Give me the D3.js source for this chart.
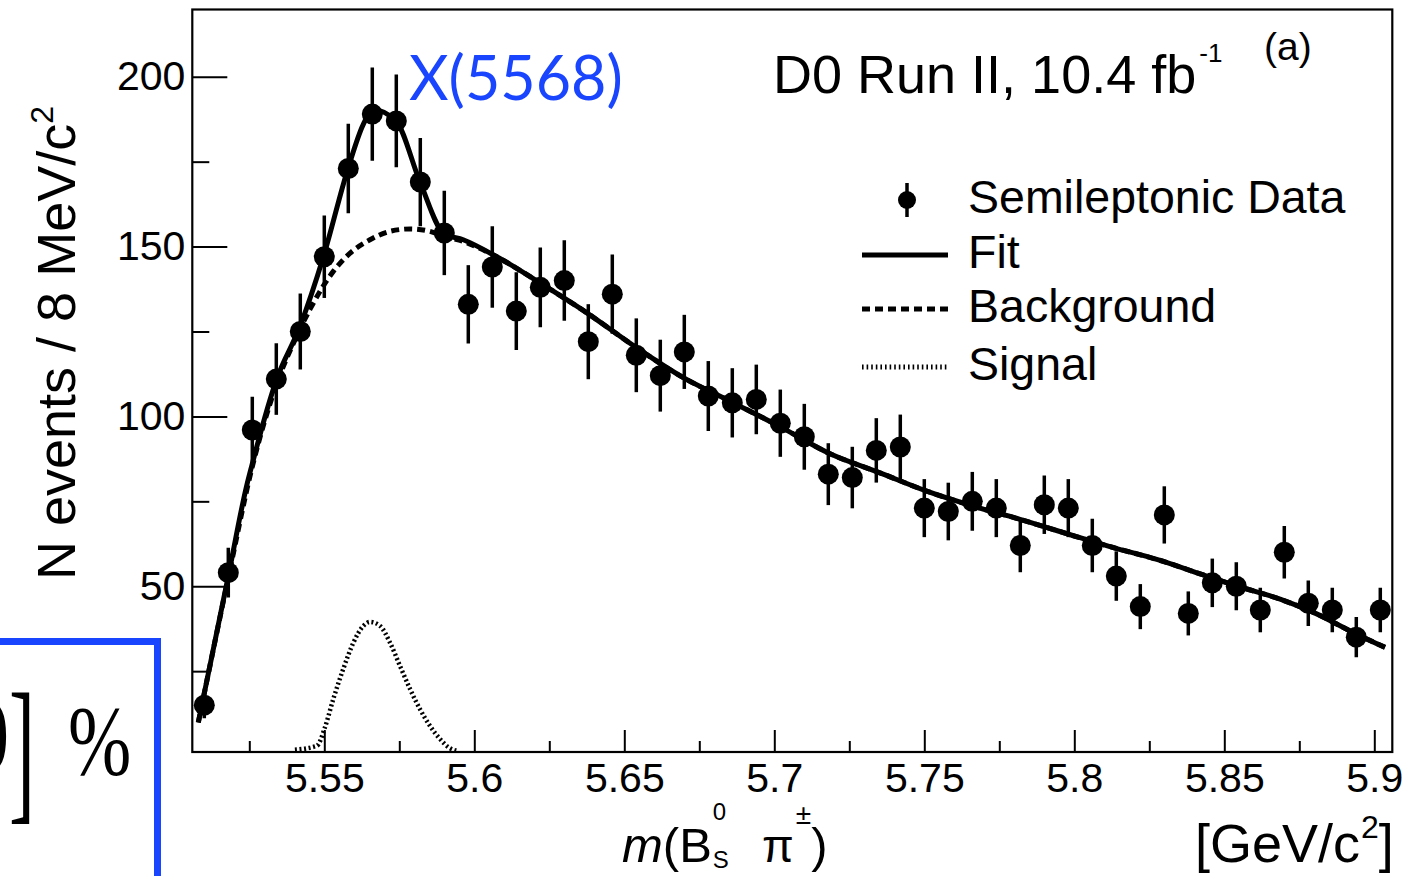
<!DOCTYPE html>
<html>
<head>
<meta charset="utf-8">
<script src="https://cdn.jsdelivr.net/npm/d3@7"></script>
<style>
  html, body { margin: 0; padding: 0; background: #fff; }
  svg { display: block; }
</style>
</head>
<body>
<svg id="chart" width="1403" height="876"></svg>
<script>
// Invariant mass of B_s0 pi± candidates, 8 MeV/c^2 bins (GeV/c^2 bin centres)
const binCenters = [5.510, 5.518, 5.526, 5.534, 5.542, 5.550, 5.558, 5.566, 5.574, 5.582,
                    5.590, 5.598, 5.606, 5.614, 5.622, 5.630, 5.638, 5.646, 5.654, 5.662,
                    5.670, 5.678, 5.686, 5.694, 5.702, 5.710, 5.718, 5.726, 5.734, 5.742,
                    5.750, 5.758, 5.766, 5.774, 5.782, 5.790, 5.798, 5.806, 5.814, 5.822,
                    5.830, 5.838, 5.846, 5.854, 5.862, 5.870, 5.878, 5.886, 5.894, 5.902];
const counts = [15, 54, 96, 111, 125, 147, 173, 189, 187, 169,
                154, 133, 144, 131, 138, 140, 122, 136, 118, 112,
                119, 106, 104, 105, 98, 94, 83, 82, 90, 91,
                73, 72, 75, 73, 62, 74, 73, 62, 53, 44,
                71, 42, 51, 50, 43, 60, 45, 43, 35, 43];

// Total fit curve
const fitMass  = [5.5080, 5.5180, 5.5241, 5.5258, 5.5341, 5.5419, 5.5497, 5.5579, 5.5630, 5.5663,
                  5.5739, 5.5819, 5.5899, 5.5963, 5.6075, 5.6219, 5.6375, 5.6541, 5.6697, 5.6852,
                  5.7019, 5.7186, 5.7352, 5.7508, 5.7663, 5.7819, 5.8019, 5.8130, 5.8275, 5.8441,
                  5.8541, 5.8686, 5.8797, 5.8941, 5.9036];
const fitValue = [9.9, 53, 79.5, 85.4, 110.9, 126.5, 147, 173, 186, 190.3,
                  187, 169, 153.8, 152, 147, 139.3, 130.5, 120.2, 111.4, 104.5,
                  97, 89, 83.4, 78, 73.6, 69.7, 64.3, 61.4, 57.9, 53,
                  50.1, 46.2, 42.3, 35.9, 32];

// Background component
const bgMass  = [5.5080, 5.5180, 5.5258, 5.5341, 5.5402, 5.5452, 5.5530, 5.5585, 5.5652, 5.5719,
                 5.5786, 5.5852, 5.5899, 5.5963, 5.6075, 5.6219, 5.6375, 5.6541, 5.6697, 5.6852,
                 5.7019, 5.7186, 5.7352, 5.7508, 5.7663, 5.7819, 5.8019, 5.8130, 5.8275, 5.8441,
                 5.8541, 5.8686, 5.8797, 5.8941, 5.9036];
const bgValue = [9.9, 52.5, 84.5, 109.5, 122.5, 131.5, 142.7, 148, 152, 154.5,
                 155.2, 154.5, 153, 151.5, 147, 139.3, 130.5, 120.2, 111.4, 104.5,
                 97, 89, 83.4, 78, 73.6, 69.7, 64.3, 61.4, 57.9, 53,
                 50.1, 46.2, 42.3, 35.9, 32];

// Signal component
const sigMass  = [5.5402, 5.5475, 5.5502, 5.5530, 5.5563, 5.5597, 5.5630, 5.5652, 5.5686,
                  5.5719, 5.5752, 5.5786, 5.5819, 5.5852, 5.5886, 5.5919, 5.5941];
const sigValue = [1.9, 3, 8.4, 16.8, 25.6, 33.4, 38.3, 39.5, 38.3,
                  33.4, 26.6, 19.7, 13.8, 8.9, 5, 2.3, 1.6];

// Axis ticks
const xMajor = [5.55, 5.6, 5.65, 5.7, 5.75, 5.8, 5.85, 5.9];
const xTickLabels = ["5.55", "5.6", "5.65", "5.7", "5.75", "5.8", "5.85", "5.9"];
const xMinor = [5.525, 5.575, 5.625, 5.675, 5.725, 5.775, 5.825, 5.875];
const yMajor = [50, 100, 150, 200];
const yTickLabels = ["50", "100", "150", "200"];
const yMinor = [25, 75, 125, 175];

const legendLabels = ["Semileptonic Data", "Fit", "Background", "Signal"];

const SANS = "'Liberation Sans', Arial, Helvetica, sans-serif";
const SERIF = "'Liberation Serif', 'DejaVu Serif', serif";
const BLUE = "#1a45ff";

const svg = d3.select("#chart");
const frame = { left: 192.3, right: 1392.3, top: 9.5, bottom: 752 };

const x = d3.scaleLinear().domain([5.506, 5.906]).range([frame.left, frame.right]);
const y = d3.scaleLinear().domain([1.2, 219.8]).range([frame.bottom, frame.top]);

svg.append("rect").attr("width", 1403).attr("height", 876).attr("fill", "#fff");

// Boxed formula fragment at the lower left
const box = svg.append("g");
box.append("rect")
  .attr("x", -30).attr("y", 641.5).attr("width", 187.5).attr("height", 300)
  .attr("fill", "#fff").attr("stroke", BLUE).attr("stroke-width", 7);
box.append("text")
  .attr("transform", "translate(9,770) scale(1,1.35)")
  .attr("text-anchor", "end")
  .attr("font-family", SERIF).attr("font-size", 76).attr("fill", "#000")
  .text("0");
box.append("text")
  .attr("transform", "translate(9,803) scale(1,2.05)")
  .attr("font-family", SERIF).attr("font-size", 78).attr("fill", "#000")
  .text("]");
box.append("text")
  .attr("transform", "translate(68,774) scale(1,1.3)")
  .attr("font-family", SERIF).attr("font-size", 76).attr("fill", "#000")
  .text("%");

// Clip region for the curves
svg.append("defs").append("clipPath").attr("id", "plotClip")
  .append("rect")
  .attr("x", frame.left).attr("y", frame.top)
  .attr("width", frame.right - frame.left).attr("height", frame.bottom - frame.top);

const plot = svg.append("g").attr("clip-path", "url(#plotClip)");

const curve = (xs, ys) => d3.line()
  .x((d, i) => x(xs[i]))
  .y((d, i) => y(ys[i]))
  .curve(d3.curveMonotoneX)(xs);

plot.append("path")
  .attr("d", curve(sigMass, sigValue))
  .attr("fill", "none").attr("stroke", "#000").attr("stroke-width", 4.5)
  .attr("stroke-dasharray", "2,2.6");

plot.append("path")
  .attr("d", curve(bgMass, bgValue))
  .attr("fill", "none").attr("stroke", "#000").attr("stroke-width", 5)
  .attr("stroke-dasharray", "8,5");

plot.append("path")
  .attr("d", curve(fitMass, fitValue))
  .attr("fill", "none").attr("stroke", "#000").attr("stroke-width", 5)
  .attr("stroke-linejoin", "round");

// Data points with Poisson uncertainties
const pts = plot.append("g").selectAll("g")
  .data(counts.map((c, i) => ({ m: binCenters[i], n: c, e: Math.sqrt(c) })))
  .join("g");
pts.append("line")
  .attr("x1", d => x(d.m)).attr("x2", d => x(d.m))
  .attr("y1", d => y(d.n - d.e)).attr("y2", d => y(d.n + d.e))
  .attr("stroke", "#000").attr("stroke-width", 3.5);
pts.append("circle")
  .attr("cx", d => x(d.m)).attr("cy", d => y(d.n)).attr("r", 10.5)
  .attr("fill", "#000");

// Axes (ticks pointing inward)
function styleAxis(g) {
  g.select(".domain").remove();
  g.attr("font-family", SANS).attr("font-size", 41);
  g.selectAll("line").attr("stroke", "#000").attr("stroke-width", 2);
  g.selectAll("text").attr("fill", "#000");
}
svg.append("g").attr("transform", `translate(0,${frame.bottom})`)
  .call(d3.axisBottom(x).tickValues(xMajor).tickFormat((d, i) => xTickLabels[i])
    .tickSizeInner(-22).tickSizeOuter(0).tickPadding(11))
  .call(styleAxis);
svg.append("g").attr("transform", `translate(0,${frame.bottom})`)
  .call(d3.axisBottom(x).tickValues(xMinor).tickFormat("")
    .tickSizeInner(-11).tickSizeOuter(0))
  .call(styleAxis);
svg.append("g").attr("transform", `translate(${frame.left},0)`)
  .call(d3.axisLeft(y).tickValues(yMajor).tickFormat((d, i) => yTickLabels[i])
    .tickSizeInner(-35).tickSizeOuter(0).tickPadding(7))
  .call(styleAxis);
svg.append("g").attr("transform", `translate(${frame.left},0)`)
  .call(d3.axisLeft(y).tickValues(yMinor).tickFormat("")
    .tickSizeInner(-17).tickSizeOuter(0))
  .call(styleAxis);

// Frame
svg.append("rect")
  .attr("x", frame.left).attr("y", frame.top)
  .attr("width", frame.right - frame.left).attr("height", frame.bottom - frame.top)
  .attr("fill", "none").attr("stroke", "#000").attr("stroke-width", 2.2);

// Y axis title
const yt = svg.append("text")
  .attr("transform", "translate(75,580) rotate(-90)")
  .attr("font-family", SANS).attr("font-size", 54).attr("fill", "#000");
yt.append("tspan").text("N events / 8 MeV/c");
yt.append("tspan").attr("font-size", 32).attr("dy", -22).text("2");

// Text pieces laid out left to right; returns the end x
function piece(xPos, yPos, txt, size, style) {
  const t = svg.append("text")
    .attr("x", xPos).attr("y", yPos)
    .attr("font-family", SANS).attr("font-size", size).attr("fill", "#000")
    .attr("font-style", style || "normal")
    .text(txt);
  return xPos + t.node().getComputedTextLength();
}

// X axis title
let cx = piece(622, 862, "m", 49, "italic");
cx = piece(cx, 862, "(B", 49);
piece(cx + 1, 820, "0", 24);
cx = piece(cx + 1, 868, "S", 24);
cx = piece(762, 862, "\u03C0", 46);
cx = piece(cx + 2, 824, "\u00B1", 28);
piece(cx, 862, ")", 49);

let gx = piece(1195, 862, "[GeV/c", 54);
gx = piece(gx + 1, 838, "2", 32);
piece(gx, 862, "]", 54);

// Annotations
svg.append("text")
  .attr("x", 409).attr("y", 100)
  .attr("font-family", "Lato, 'Open Sans', sans-serif").attr("font-size", 61)
  .attr("fill", BLUE)
  .text("X(5568)");

const fbEnd = piece(773, 93, "D0 Run II, 10.4 fb", 54);
piece(fbEnd + 3, 62, "-1", 26);
piece(1264, 60, "(a)", 39);

// Legend
const legX1 = 862, legX2 = 948, legText = 968;
const legRows = [200, 255, 309, 367];
svg.append("line")
  .attr("x1", 907).attr("x2", 907).attr("y1", legRows[0] - 17).attr("y2", legRows[0] + 17)
  .attr("stroke", "#000").attr("stroke-width", 3.5);
svg.append("circle").attr("cx", 907).attr("cy", legRows[0]).attr("r", 9).attr("fill", "#000");
svg.append("line").attr("x1", legX1).attr("x2", legX2)
  .attr("y1", legRows[1]).attr("y2", legRows[1])
  .attr("stroke", "#000").attr("stroke-width", 5);
svg.append("line").attr("x1", legX1).attr("x2", legX2)
  .attr("y1", legRows[2]).attr("y2", legRows[2])
  .attr("stroke", "#000").attr("stroke-width", 5).attr("stroke-dasharray", "8,5");
svg.append("line").attr("x1", legX1).attr("x2", legX2)
  .attr("y1", legRows[3]).attr("y2", legRows[3])
  .attr("stroke", "#000").attr("stroke-width", 5).attr("stroke-dasharray", "1.6,3");
legendLabels.forEach((lab, i) => {
  svg.append("text")
    .attr("x", legText).attr("y", legRows[i] + 13)
    .attr("font-family", SANS).attr("font-size", 46.5).attr("fill", "#000")
    .text(lab);
});
</script>
</body>
</html>
